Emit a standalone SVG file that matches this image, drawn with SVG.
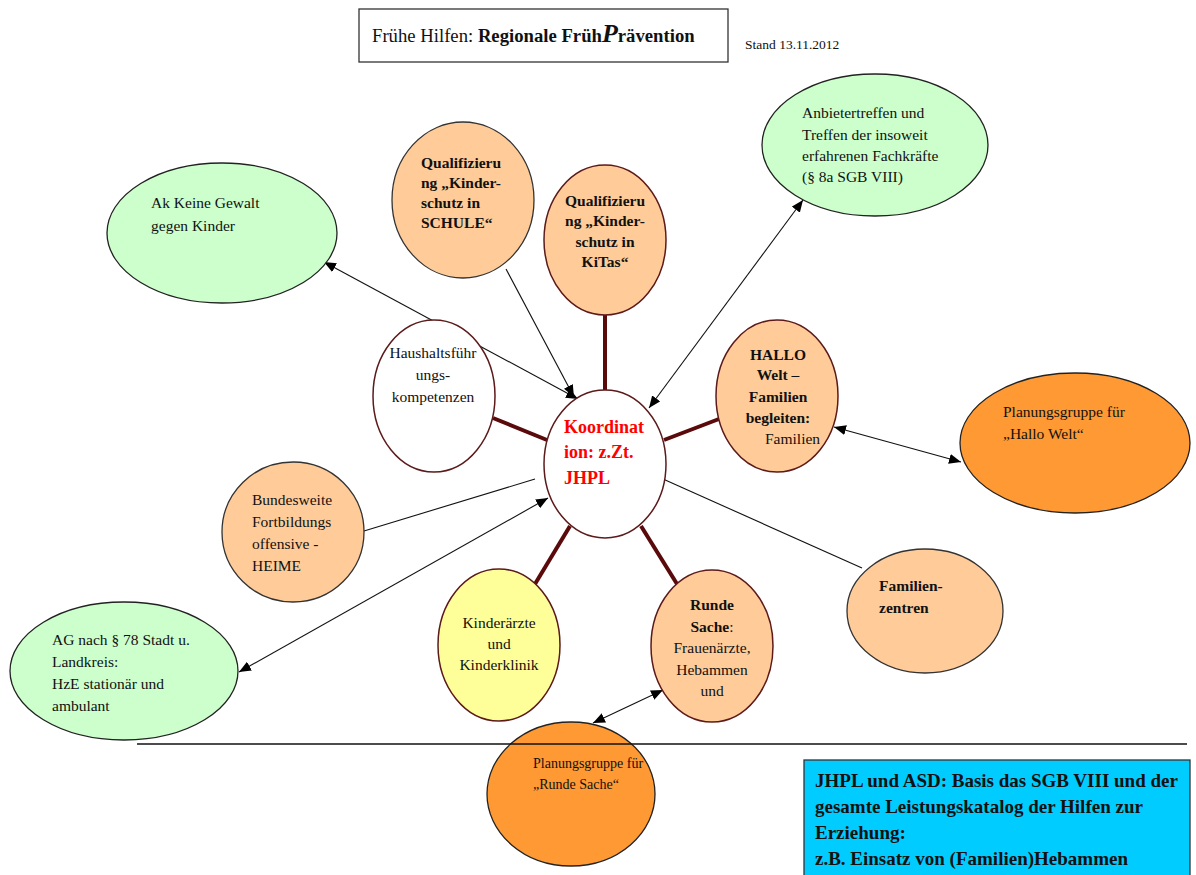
<svg xmlns="http://www.w3.org/2000/svg" width="1196" height="875" viewBox="0 0 1196 875">
<style>
text{font-family:"Liberation Serif","Times New Roman",serif;font-size:15.5px;fill:#111}
.b{font-weight:bold}
.c{text-anchor:middle}
.green{fill:#ccffcc;stroke:#222;stroke-width:1.3}
.peach{fill:#ffcc99;stroke:#5c1a1a;stroke-width:1.5}
.peachk{fill:#ffcc99;stroke:#333;stroke-width:1.3}
.orange{fill:#ff9933;stroke:#222;stroke-width:1.3}
.white{fill:#ffffff;stroke:#5c1a1a;stroke-width:1.5}
.yellow{fill:#ffff99;stroke:#5c1a1a;stroke-width:1.5}
.thick{stroke:#5a0a0a;stroke-width:4;fill:none}
.thin{stroke:#111;stroke-width:1.1;fill:none}
.dbl{marker-start:url(#arr);marker-end:url(#arr)}
.one{marker-end:url(#arr)}
</style>
<defs>
<marker id="arr" viewBox="0 0 12 10" refX="12" refY="5" markerWidth="12" markerHeight="10" markerUnits="userSpaceOnUse" orient="auto-start-reverse">
<path d="M0,0 L12,5 L0,10 z" fill="#000"/>
</marker>
</defs>
<rect width="1196" height="875" fill="#fff"/>

<g id="title">
<rect x="359" y="9" width="369" height="53" fill="#fff" stroke="#333" stroke-width="1.3"/>
<text x="372" y="42" style="font-size:18.7px">Frühe Hilfen: <tspan class="b">Regionale Früh</tspan><tspan class="b" style="font-style:italic;font-size:26px">P</tspan><tspan class="b">rävention</tspan></text>
<text x="745" y="49" style="font-size:13.5px">Stand 13.11.2012</text>
</g>

<g id="connectors">
<line class="thick" x1="605" y1="315" x2="605" y2="390"/>
<line class="thick" x1="493" y1="418" x2="547" y2="440"/>
<line class="thick" x1="664" y1="440" x2="719" y2="419"/>
<line class="thick" x1="535" y1="584" x2="570" y2="526"/>
<line class="thick" x1="641" y1="526" x2="677" y2="584"/>
<line class="thin dbl" x1="324" y1="262" x2="578" y2="399"/>
<line class="thin one" x1="506" y1="269" x2="574" y2="397"/>
<line class="thin dbl" x1="803" y1="200" x2="649" y2="408"/>
<line class="thin dbl" x1="834" y1="427" x2="961" y2="462"/>
<line class="thin" x1="364" y1="531" x2="535" y2="479"/>
<line class="thin dbl" x1="239" y1="672" x2="548" y2="498"/>
<line class="thin" x1="663" y1="479" x2="862" y2="568"/>
<line class="thin dbl" x1="663" y1="690" x2="593" y2="723"/>
</g>

<g id="ak-keine-gewalt">
<ellipse class="green" cx="222" cy="233" rx="115" ry="70"/>
<text x="151" y="208">Ak Keine Gewalt</text>
<text x="151" y="231">gegen Kinder</text>
</g>

<g id="qual-schule">
<ellipse class="peachk" cx="463" cy="200" rx="71" ry="78"/>
<text class="b" x="421" y="168">Qualifizieru</text>
<text class="b" x="421" y="188">ng „Kinder-</text>
<text class="b" x="421" y="208">schutz in</text>
<text class="b" x="421" y="228">SCHULE“</text>
</g>

<g id="qual-kitas">
<ellipse class="peach" cx="605" cy="240" rx="61" ry="75"/>
<text class="b c" x="605" y="206">Qualifizieru</text>
<text class="b c" x="605" y="226">ng „Kinder-</text>
<text class="b c" x="605" y="247">schutz in</text>
<text class="b c" x="605" y="267">KiTas“</text>
</g>

<g id="anbietertreffen">
<ellipse class="green" cx="875" cy="145" rx="113" ry="71"/>
<text x="802" y="118">Anbietertreffen und</text>
<text x="802" y="140">Treffen der insoweit</text>
<text x="802" y="161">erfahrenen Fachkräfte</text>
<text x="802" y="182">(§ 8a SGB VIII)</text>
</g>

<g id="haushalt">
<ellipse class="white" cx="434" cy="396" rx="61" ry="76"/>
<text class="c" x="433" y="358">Haushaltsführ</text>
<text class="c" x="433" y="380">ungs-</text>
<text class="c" x="433" y="402">kompetenzen</text>
</g>

<g id="koordination">
<ellipse class="white" cx="605" cy="464" rx="61" ry="74"/>
<text class="b" x="564" y="433" style="font-size:18px;fill:#ff0000">Koordinat</text>
<text class="b" x="564" y="458" style="font-size:18px;fill:#ff0000">ion: z.Zt.</text>
<text class="b" x="564" y="484" style="font-size:18px;fill:#ff0000">JHPL</text>
</g>

<g id="hallo-welt">
<ellipse class="peach" cx="777" cy="396" rx="61" ry="76"/>
<text class="b c" x="778" y="360">HALLO</text>
<text class="b c" x="778" y="380">Welt –</text>
<text class="b c" x="778" y="402">Familien</text>
<text class="b c" x="778" y="423">begleiten:</text>
<text x="765" y="444">Familien</text>
</g>

<g id="plan-hallo">
<ellipse class="orange" cx="1075" cy="443" rx="115" ry="70"/>
<text x="1003" y="417">Planungsgruppe für</text>
<text x="1003" y="439">„Hallo Welt“</text>
</g>

<g id="bundesweite">
<ellipse class="peachk" cx="293" cy="532" rx="71" ry="70"/>
<text x="252" y="505">Bundesweite</text>
<text x="252" y="527">Fortbildungs</text>
<text x="252" y="549">offensive  -</text>
<text x="252" y="571">HEIME</text>
</g>

<g id="ag78">
<ellipse class="green" cx="124" cy="671" rx="114" ry="69"/>
<text x="52" y="645">AG nach § 78 Stadt u.</text>
<text x="52" y="667">Landkreis:</text>
<text x="52" y="689">HzE stationär und</text>
<text x="52" y="711">ambulant</text>
</g>

<g id="kinderaerzte">
<ellipse class="yellow" cx="499" cy="645" rx="61" ry="76"/>
<text class="c" x="499" y="628">Kinderärzte</text>
<text class="c" x="499" y="649">und</text>
<text class="c" x="499" y="670">Kinderklinik</text>
</g>

<g id="runde-sache">
<ellipse class="peach" cx="712" cy="646" rx="61" ry="76"/>
<text class="b c" x="712" y="610">Runde</text>
<text class="c" x="712" y="632"><tspan class="b">Sache</tspan>:</text>
<text class="c" x="712" y="653">Frauenärzte,</text>
<text class="c" x="712" y="675">Hebammen</text>
<text class="c" x="712" y="696">und</text>
</g>

<g id="familienzentren">
<ellipse class="peachk" cx="925" cy="611" rx="78" ry="62"/>
<text class="b" x="879" y="591">Familien-</text>
<text class="b" x="879" y="613">zentren</text>
</g>

<g id="plan-runde">
<ellipse class="orange" cx="571" cy="794" rx="84" ry="72"/>
<text x="533" y="768" style="font-size:14px">Planungsgruppe für</text>
<text x="533" y="789" style="font-size:14px">„Runde Sache“</text>
</g>

<line x1="137" y1="744" x2="1187" y2="744" stroke="#111" stroke-width="1.3"/>

<g id="basis-box">
<rect x="804" y="760" width="386" height="118" fill="#00ccff" stroke="#333" stroke-width="1.3"/>
<text class="b" x="815" y="787" style="font-size:19px">JHPL und ASD: Basis das SGB VIII und der</text>
<text class="b" x="815" y="813" style="font-size:19px">gesamte Leistungskatalog der Hilfen zur</text>
<text class="b" x="815" y="839" style="font-size:19px">Erziehung:</text>
<text class="b" x="815" y="865" style="font-size:19px">z.B. Einsatz von (Familien)Hebammen</text>
</g>
</svg>
